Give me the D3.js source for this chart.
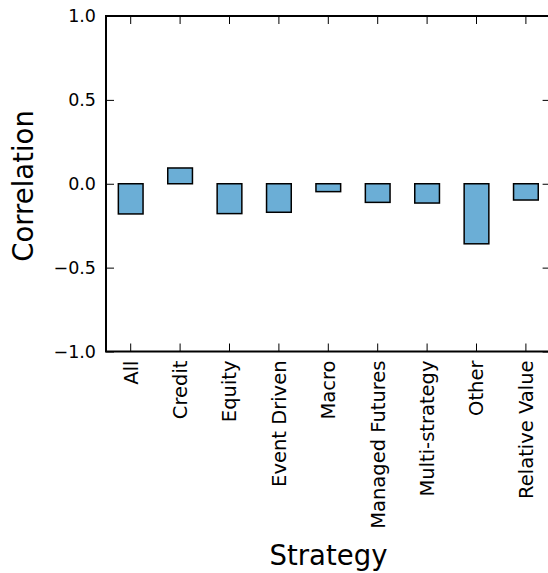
<!DOCTYPE html>
<html><head><meta charset="utf-8">
<script src="https://cdn.jsdelivr.net/npm/d3@7"></script>
<style>body{margin:0;background:#fff}svg{display:block}text{font-family:"DejaVu Sans",sans-serif;fill:#000}</style>
</head><body><svg id="c" width="548" height="573"></svg>
<script>
const categories = ["All","Credit","Equity","Event Driven","Macro","Managed Futures","Multi-strategy","Other","Relative Value"];
const correlations = [-0.18, 0.094, -0.178, -0.17, -0.047, -0.111, -0.115, -0.358, -0.097];
const yTicks = [-1.0, -0.5, 0.0, 0.5, 1.0];
const yTickLabels = ["\u22121.0","\u22120.5","0.0","0.5","1.0"];

const svg = d3.select("#c");
const L = 106, R = 550.6, T = 16, B = 351.5;
const x = d3.scaleBand().domain(categories).range([L, R]).paddingInner(0.5).paddingOuter(0.25);
const y = d3.scaleLinear().domain([-1, 1]).range([B, T]);
const tickLen = 8;

// bars
svg.append("g").selectAll("rect").data(categories).join("rect")
  .attr("x", d => x(d))
  .attr("width", x.bandwidth())
  .attr("y", (d,i) => y(Math.max(0, correlations[i])))
  .attr("height", (d,i) => Math.abs(y(correlations[i]) - y(0)))
  .attr("fill", "#6baed6").attr("stroke", "#000").attr("stroke-width", 1.5);

// left axis
const yAxisL = d3.axisLeft(y).tickValues(yTicks).tickSize(-tickLen).tickPadding(tickLen+2)
  .tickFormat((d,i) => yTickLabels[yTicks.indexOf(d)]);
const gl = svg.append("g").attr("transform", `translate(${L},0)`).call(yAxisL);
gl.select(".domain").remove();
gl.selectAll("text").attr("font-size", 17.5).attr("font-family", "DejaVu Sans").attr("fill","#000");
gl.selectAll("line").attr("stroke","#000").attr("stroke-width",1);

// right ticks
const gr = svg.append("g").attr("transform", `translate(${R},0)`).call(d3.axisRight(y).tickValues(yTicks).tickSize(-tickLen).tickFormat(""));
gr.select(".domain").remove();
gr.selectAll("line").attr("stroke","#000").attr("stroke-width",1);

// bottom axis
const xAxisB = d3.axisBottom(x).tickSize(-tickLen).tickPadding(0);
const gb = svg.append("g").attr("transform", `translate(0,${B})`).call(xAxisB);
gb.select(".domain").remove();
gb.selectAll("line").attr("stroke","#000").attr("stroke-width",1);
gb.selectAll("text")
  .attr("font-size", 19.5).attr("font-family", "DejaVu Sans").attr("fill","#000")
  .attr("text-anchor","end").attr("dy","0.35em")
  .attr("transform","translate(0,9) rotate(-90)")
  .attr("x",0).attr("y",0);

// top ticks
const gt = svg.append("g").attr("transform", `translate(0,${T})`).call(d3.axisTop(x).tickSize(-tickLen).tickFormat(""));
gt.select(".domain").remove();
gt.selectAll("line").attr("stroke","#000").attr("stroke-width",1);

// spines
svg.append("rect").attr("x", L).attr("y", T).attr("width", R - L).attr("height", B - T)
  .attr("fill","none").attr("stroke","#000").attr("stroke-width",2);

// axis labels
svg.append("text").attr("transform", `translate(33,186) rotate(-90)`).attr("text-anchor","middle")
  .attr("font-size", 27.5).text("Correlation");
svg.append("text").attr("x", 328.5).attr("y", 565).attr("text-anchor","middle")
  .attr("font-size", 27.5).text("Strategy");
</script></body></html>
